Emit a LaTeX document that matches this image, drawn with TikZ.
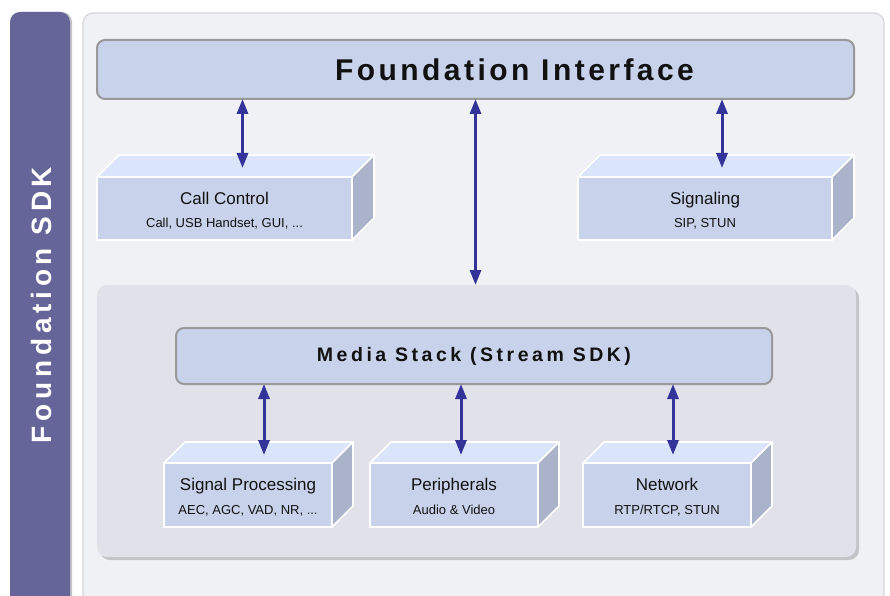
\documentclass[tikz,border=0pt]{standalone}
\usepackage{fontspec}
\setmainfont{Liberation Sans}
\newfontfamily\sdkfont[LetterSpace=17]{Liberation Sans}
\newfontfamily\fifont[LetterSpace=11.5]{Liberation Sans}
\newfontfamily\msfont[LetterSpace=18]{Liberation Sans}
\usetikzlibrary{arrows.meta,calc}
\definecolor{barc}{HTML}{65659A}
\definecolor{panelc}{HTML}{F0F1F5}
\definecolor{panelb}{HTML}{D6D6DC}
\definecolor{boxc}{HTML}{C8D2EA}
\definecolor{boxb}{HTML}{999999}
\definecolor{topc}{HTML}{DAE4FB}
\definecolor{sidec}{HTML}{AAB3C9}
\definecolor{mediac}{HTML}{E1E1EA}
\definecolor{shadc}{HTML}{C4C4C8}
\definecolor{arrc}{HTML}{333399}
\definecolor{txtc}{HTML}{111111}
\newcommand\boxtitle{\fontsize{17}{17}\selectfont}
\newcommand\boxtext[2]{\raisebox{0pt}[\dimexpr\height+7.5pt\relax][\depth]{\begin{tabular}{@{}c@{}}{\boxtitle #1}\\[8.5pt]#2\end{tabular}}}
\tikzset{
  roundbox/.style={draw=boxb, line width=2pt, fill=boxc, rounded corners=8pt, outer sep=0pt, inner sep=0pt},
  front/.style={fill=boxc, draw=white, line width=1.6pt, outer sep=0pt, inner sep=0pt, align=center, text=txtc,
     font=\fontsize{13}{15}\selectfont},
  face/.style={draw=white, line width=1.6pt, line join=round},
  arr/.style={draw=arrc, line width=3pt, {Triangle[width=11pt,length=15pt]}-{Triangle[width=11pt,length=15pt]}}
}
\newcommand\boxfaces[2]{%
  \filldraw[face, fill=topc] (#1.north west) -- ++(#2,-#2) -- ($(#1.north east)+(#2,-#2)$) -- (#1.north east) -- cycle;
  \filldraw[face, fill=sidec] (#1.north east) -- ++(#2,-#2) -- ($(#1.south east)+(#2,-#2)$) -- (#1.south east) -- cycle;
}
\begin{document}
\begin{tikzpicture}[x=1pt,y=-1pt]
\useasboundingbox[fill=white] (0,0) rectangle (890,596);
% left bar
\fill[shadc, rounded corners=10pt] (12,12) rectangle (72,620);
\fill[barc, rounded corners=10pt] (10,12) rectangle (70,620);
\node[rotate=90, text=white, font=\sdkfont\bfseries\fontsize{28}{28}\selectfont] (sdk) at (41,305) {Foundation SDK};
% outer panel
\filldraw[fill=panelc, draw=panelb, line width=1.2pt, rounded corners=10pt] (83,13) rectangle (884,620);
% foundation interface
\node[roundbox, minimum width=757pt, minimum height=59pt, anchor=north west,
      font=\fifont\bfseries\fontsize{30}{30}\selectfont, text=txtc] (fi) at (97,40) {\hspace*{78pt}Foundation Interface};
% call control / signaling
\node[front, minimum width=255pt, minimum height=63pt, anchor=north west] (cc) at (97,177)
  {\boxtext{Call Control}{Call, USB Handset, GUI, ...}};
\boxfaces{cc}{22}
\node[front, minimum width=254pt, minimum height=63pt, anchor=north west] (sg) at (578,177)
  {\boxtext{Signaling}{SIP, STUN}};
\boxfaces{sg}{22}
% media region
\fill[shadc, rounded corners=10pt] (100,288) rectangle (859,560);
\node[fill=mediac, rounded corners=10pt, minimum width=759pt, minimum height=272pt, anchor=north west, outer sep=0pt, inner sep=0pt] (media) at (97,285) {};
\node[roundbox, minimum width=596pt, minimum height=56pt, anchor=north west,
      font=\msfont\bfseries\fontsize{19.5}{19.5}\selectfont, text=txtc] (ms) at (176,328) {Media Stack (Stream SDK)};
% bottom boxes
\node[front, minimum width=168pt, minimum height=64pt, anchor=north west] (sp) at (164,463)
  {\boxtext{Signal Processing}{AEC, AGC, VAD, NR, ...}};
\boxfaces{sp}{21}
\node[front, minimum width=168pt, minimum height=64pt, anchor=north west] (pe) at (370,463)
  {\boxtext{Peripherals}{Audio \& Video}};
\boxfaces{pe}{21}
\node[front, minimum width=168pt, minimum height=64pt, anchor=north west] (nw) at (583,463)
  {\boxtext{Network}{RTP/RTCP, STUN}};
\boxfaces{nw}{21}
% arrows
\coordinate (cct) at ($(cc.north)+(18,-9)$);
\coordinate (sgt) at ($(sg.north)+(17,-9)$);
\draw[arr] (cct |- fi.south) -- (cct);
\draw[arr] (sgt |- fi.south) -- (sgt);
\draw[arr] (fi.south) -- (fi.south |- media.north);
\coordinate (spt) at ($(sp.north)+(16,-8)$);
\coordinate (pet) at ($(pe.north)+(7,-8)$);
\coordinate (nwt) at ($(nw.north)+(6,-8)$);
\draw[arr] (spt |- ms.south) -- (spt);
\draw[arr] (pet |- ms.south) -- (pet);
\draw[arr] (nwt |- ms.south) -- (nwt);
\end{tikzpicture}
\end{document}
